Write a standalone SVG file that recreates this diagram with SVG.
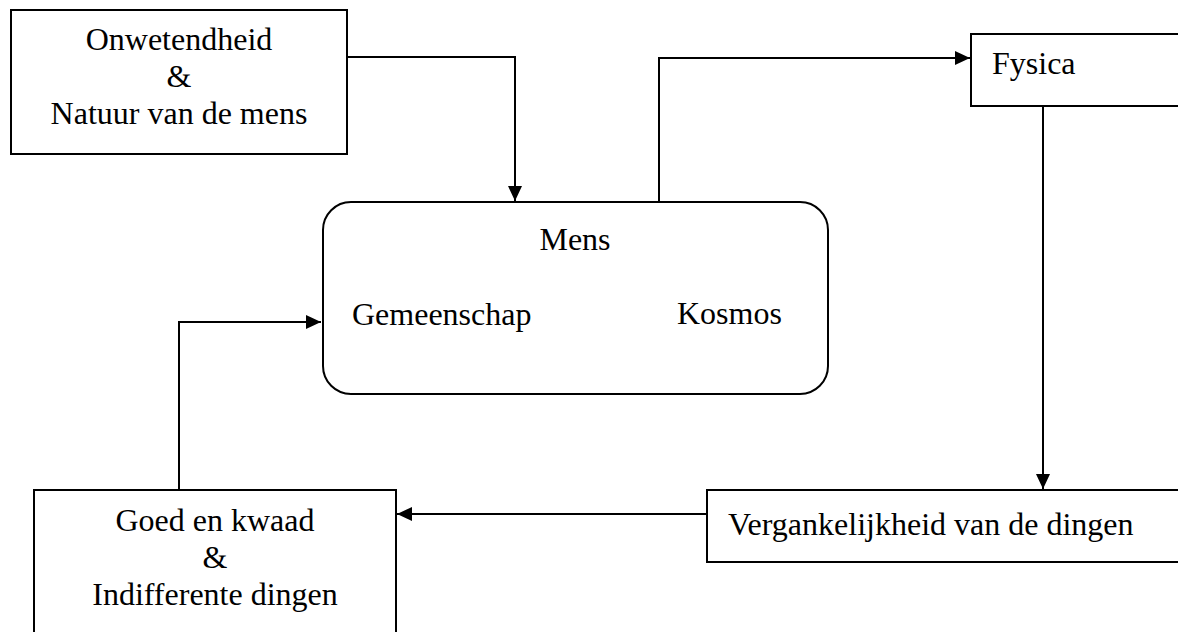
<svg xmlns="http://www.w3.org/2000/svg" width="1178" height="632" viewBox="0 0 1178 632">
  <style>
    .box { fill: #ffffff; stroke: #000000; stroke-width: 2; }
    .lbl { font-family: "Liberation Serif", "Times New Roman", serif; font-size: 32px; fill: #000000; }
    .mid { text-anchor: middle; }
    .conn { fill: none; stroke: #000000; stroke-width: 2; }
  </style>
  <defs>
    <marker id="arrow" markerUnits="userSpaceOnUse" markerWidth="16" markerHeight="15" refX="15" refY="7" orient="auto">
      <path d="M0,0 L15,7 L0,14 z" fill="#000000"/>
    </marker>
  </defs>
  <rect width="1178" height="632" fill="#ffffff"/>

  <g id="connectors">
    <polyline class="conn" points="347,57 515,57 515,201" marker-end="url(#arrow)"/>
    <polyline class="conn" points="659,202 659,58 970,58" marker-end="url(#arrow)"/>
    <polyline class="conn" points="1043,106 1043,489" marker-end="url(#arrow)"/>
    <polyline class="conn" points="707,514 397,514" marker-end="url(#arrow)"/>
    <polyline class="conn" points="179,490 179,322 321,322" marker-end="url(#arrow)"/>
  </g>

  <g id="node-onwetendheid">
    <rect class="box" x="11" y="10" width="336" height="144"/>
    <text class="lbl mid" x="179" y="50">Onwetendheid</text>
    <text class="lbl mid" x="179" y="87">&amp;</text>
    <text class="lbl mid" x="179" y="124">Natuur van de mens</text>
  </g>

  <g id="node-mens">
    <rect class="box" x="323" y="202" width="505" height="192" rx="28" ry="28"/>
    <text class="lbl mid" x="575" y="250">Mens</text>
    <text class="lbl" x="352" y="325">Gemeenschap</text>
    <text class="lbl" x="677" y="324">Kosmos</text>
  </g>

  <g id="node-fysica">
    <rect class="box" x="971" y="34" width="230" height="72"/>
    <text class="lbl" x="992" y="74">Fysica</text>
  </g>

  <g id="node-vergankelijkheid">
    <rect class="box" x="707" y="490" width="490" height="72"/>
    <text class="lbl" x="728" y="535">Vergankelijkheid van de dingen</text>
  </g>

  <g id="node-goed">
    <rect class="box" x="34" y="490" width="362" height="170"/>
    <text class="lbl mid" x="215" y="531">Goed en kwaad</text>
    <text class="lbl mid" x="215" y="568">&amp;</text>
    <text class="lbl mid" x="215" y="605">Indifferente dingen</text>
  </g>
</svg>
